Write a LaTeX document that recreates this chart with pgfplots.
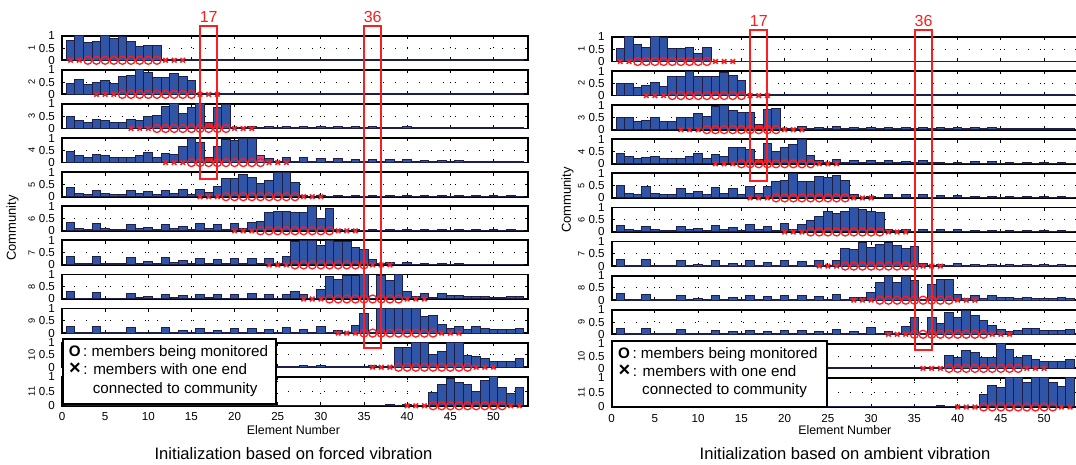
\documentclass[border=0pt]{standalone}
\usepackage{fontspec}
\setmainfont{Liberation Sans}
\usepackage{pgfplots}
\usepackage{pgfplotstable}
\pgfplotsset{compat=1.18}
\definecolor{barblue}{RGB}{48,84,166}
\definecolor{baredge}{RGB}{28,32,72}
\definecolor{mred}{RGB}{250,30,30}
\definecolor{barred}{RGB}{225,30,35}
\definecolor{barpink}{RGB}{215,70,150}

\pgfplotstableread{
x r1 r2 r3 r4 r5 r6 r7 r8 r9 r10 r11
1 0.80 0.46 0.50 0.47 0.37 0.33 0.36 0.32 0.28 0.25 0.02
2 1.00 0.60 0.33 0.30 0.14 0.11 0.06 0.03 0.03 0.03 0.02
3 0.72 0.42 0.23 0.21 0.10 0.07 0.06 0.03 0.03 0.03 0.02
4 0.76 0.49 0.37 0.34 0.27 0.29 0.33 0.26 0.25 0.22 0.02
5 1.00 0.58 0.34 0.30 0.14 0.11 0.07 0.03 0.03 0.03 0.02
6 0.90 0.44 0.24 0.21 0.10 0.07 0.04 0.03 0.03 0.03 0.02
7 0.97 0.75 0.24 0.21 0.10 0.07 0.04 0.03 0.03 0.03 0.02
8 0.75 0.79 0.37 0.21 0.24 0.26 0.30 0.24 0.21 0.20 0.02
9 0.55 1.00 0.34 0.29 0.14 0.11 0.07 0.06 0.04 0.03 0.02
10 0.60 0.89 0.49 0.43 0.20 0.14 0.12 0.09 0.04 0.03 0.02
11 0.62 0.70 0.54 0.21 0.10 0.07 0.04 0.03 0.03 0.03 0.02
12 0.02 0.68 0.90 0.37 0.27 0.26 0.29 0.19 0.21 0.18 0.02
13 0.02 0.87 1.00 0.31 0.14 0.11 0.10 0.06 0.04 0.03 0.02
14 0.02 0.74 0.61 0.64 0.31 0.19 0.16 0.15 0.10 0.08 0.02
15 0.02 0.56 0.84 1.00 0.10 0.07 0.04 0.03 0.03 0.03 0.02
16 0.02 0.03 1.00 0.84 0.31 0.29 0.28 0.20 0.18 0.16 0.02
17 0.02 0.03 0.23 0.21 0.17 0.11 0.07 0.06 0.04 0.03 0.02
18 0.02 0.03 0.84 0.66 0.43 0.24 0.20 0.19 0.10 0.08 0.02
19 0.02 0.03 0.96 0.93 0.74 0.07 0.04 0.03 0.03 0.03 0.02
20 0.02 0.04 0.03 0.89 0.74 0.31 0.25 0.19 0.18 0.15 0.02
21 0.02 0.03 0.03 1.00 0.89 0.11 0.07 0.03 0.04 0.03 0.02
22 0.02 0.03 0.09 1.00 0.77 0.33 0.25 0.24 0.18 0.15 0.02
23 0.02 0.04 0.03 0.30 0.53 0.36 0.04 0.03 0.03 0.03 0.02
24 0.02 0.03 0.08 0.17 0.67 0.76 0.28 0.20 0.15 0.13 0.02
25 0.02 0.03 0.03 0.06 1.00 0.80 0.07 0.03 0.04 0.03 0.02
26 0.02 0.04 0.10 0.21 0.99 0.79 0.35 0.18 0.21 0.04 0.02
27 0.02 0.03 0.03 0.04 0.58 0.75 0.96 0.30 0.03 0.03 0.02
28 0.02 0.03 0.09 0.19 0.04 0.76 1.00 0.19 0.14 0.05 0.02
29 0.02 0.03 0.03 0.04 0.02 1.00 1.00 0.03 0.03 0.03 0.02
30 0.02 0.04 0.09 0.17 0.04 0.50 0.78 0.37 0.28 0.05 0.02
31 0.02 0.03 0.03 0.04 0.02 0.89 1.00 0.91 0.03 0.03 0.02
32 0.02 0.03 0.08 0.17 0.04 0.05 0.94 0.78 0.10 0.04 0.02
33 0.02 0.03 0.03 0.04 0.02 0.03 0.97 0.96 0.03 0.03 0.02
34 0.02 0.04 0.07 0.14 0.04 0.05 0.72 0.96 0.32 0.04 0.02
35 0.02 0.03 0.03 0.04 0.02 0.03 0.61 1.00 0.78 0.03 0.02
36 0.02 0.03 0.07 0.14 0.04 0.05 0.20 0.02 0.02 0.05 0.02
37 0.02 0.03 0.03 0.04 0.02 0.03 0.06 0.96 1.00 0.03 0.02
38 0.02 0.03 0.06 0.11 0.04 0.05 0.08 0.76 1.00 0.04 0.04
39 0.02 0.03 0.03 0.04 0.02 0.03 0.03 1.00 1.00 0.81 0.02
40 0.02 0.03 0.08 0.11 0.04 0.05 0.08 0.30 1.00 0.81 0.03
41 0.02 0.03 0.03 0.03 0.02 0.03 0.03 0.12 1.00 1.00 0.02
42 0.02 0.03 0.06 0.08 0.04 0.05 0.06 0.22 0.68 1.00 0.02
43 0.02 0.03 0.03 0.03 0.02 0.03 0.03 0.07 0.71 0.53 0.46
44 0.02 0.03 0.06 0.08 0.04 0.05 0.06 0.22 0.36 0.63 0.72
45 0.02 0.03 0.03 0.03 0.02 0.03 0.03 0.15 0.20 1.00 0.93
46 0.02 0.03 0.06 0.07 0.04 0.05 0.05 0.15 0.25 1.00 0.81
47 0.02 0.03 0.03 0.03 0.02 0.03 0.03 0.09 0.13 0.49 0.72
48 0.02 0.03 0.06 0.06 0.04 0.05 0.03 0.09 0.25 0.44 0.48
49 0.02 0.03 0.03 0.03 0.02 0.03 0.03 0.09 0.20 0.34 0.87
50 0.02 0.03 0.06 0.05 0.04 0.05 0.03 0.05 0.14 0.22 1.00
51 0.02 0.03 0.03 0.03 0.02 0.03 0.03 0.05 0.14 0.22 0.64
52 0.02 0.03 0.06 0.05 0.04 0.05 0.03 0.09 0.13 0.22 0.42
53 0.02 0.03 0.03 0.03 0.02 0.03 0.03 0.10 0.20 0.34 0.63
}\leftdata

\pgfplotstableread{
x r1 r2 r3 r4 r5 r6 r7 r8 r9 r10 r11
1 0.54 0.51 0.50 0.43 0.52 0.25 0.25 0.28 0.25 0.25 0.02
2 1.00 0.51 0.50 0.31 0.18 0.10 0.03 0.03 0.03 0.03 0.02
3 0.68 0.35 0.35 0.20 0.12 0.07 0.03 0.03 0.03 0.03 0.02
4 0.59 0.43 0.38 0.26 0.45 0.22 0.25 0.23 0.22 0.22 0.02
5 1.00 0.52 0.50 0.31 0.18 0.10 0.03 0.03 0.03 0.03 0.02
6 0.96 0.36 0.35 0.20 0.12 0.07 0.03 0.03 0.03 0.03 0.02
7 0.51 0.78 0.35 0.20 0.12 0.07 0.03 0.03 0.03 0.03 0.02
8 0.54 0.78 0.50 0.20 0.39 0.22 0.22 0.20 0.19 0.19 0.02
9 0.59 1.00 0.50 0.31 0.18 0.10 0.03 0.04 0.04 0.03 0.02
10 0.32 0.78 0.68 0.43 0.25 0.15 0.06 0.05 0.04 0.03 0.02
11 0.59 0.78 0.53 0.20 0.12 0.07 0.03 0.03 0.03 0.03 0.02
12 0.02 0.78 0.95 0.37 0.43 0.27 0.21 0.18 0.16 0.16 0.02
13 0.02 0.93 1.00 0.31 0.18 0.10 0.04 0.04 0.04 0.03 0.02
14 0.02 0.83 0.80 0.65 0.37 0.18 0.10 0.12 0.10 0.08 0.02
15 0.02 0.61 0.70 0.65 0.12 0.07 0.03 0.03 0.03 0.03 0.02
16 0.02 0.03 0.70 0.57 0.48 0.30 0.21 0.18 0.16 0.15 0.02
17 0.02 0.03 0.23 0.17 0.18 0.10 0.04 0.04 0.04 0.03 0.02
18 0.02 0.03 0.83 0.82 0.48 0.22 0.15 0.17 0.12 0.10 0.02
19 0.02 0.03 0.88 0.51 0.67 0.07 0.03 0.03 0.03 0.03 0.02
20 0.02 0.05 0.03 0.66 0.73 0.33 0.21 0.18 0.15 0.14 0.02
21 0.02 0.03 0.03 0.77 1.00 0.10 0.04 0.04 0.04 0.03 0.02
22 0.02 0.03 0.14 1.00 0.67 0.30 0.18 0.20 0.15 0.14 0.02
23 0.02 0.05 0.03 0.35 0.67 0.45 0.03 0.03 0.03 0.03 0.02
24 0.02 0.03 0.10 0.14 0.88 0.64 0.22 0.17 0.13 0.12 0.02
25 0.02 0.03 0.03 0.05 0.82 0.85 0.04 0.04 0.04 0.03 0.02
26 0.02 0.06 0.14 0.17 0.91 0.75 0.21 0.25 0.21 0.04 0.02
27 0.02 0.03 0.03 0.04 0.73 0.82 0.73 0.04 0.03 0.03 0.02
28 0.02 0.03 0.10 0.13 0.15 1.00 0.67 0.12 0.13 0.04 0.02
29 0.02 0.03 0.03 0.04 0.03 0.93 0.96 0.12 0.03 0.03 0.02
30 0.02 0.04 0.10 0.13 0.07 0.82 0.75 0.31 0.28 0.05 0.02
31 0.02 0.03 0.03 0.04 0.03 0.79 0.90 0.71 0.03 0.03 0.02
32 0.02 0.03 0.10 0.14 0.13 0.12 0.96 0.97 0.13 0.04 0.02
33 0.02 0.03 0.03 0.04 0.03 0.07 0.85 0.71 0.03 0.03 0.02
34 0.02 0.04 0.08 0.11 0.12 0.12 0.70 0.97 0.33 0.04 0.02
35 0.02 0.03 0.03 0.04 0.03 0.04 0.80 0.82 0.70 0.03 0.02
36 0.02 0.03 0.09 0.13 0.12 0.12 0.10 0.02 0.02 0.05 0.02
37 0.02 0.03 0.03 0.04 0.03 0.04 0.04 0.63 0.67 0.03 0.02
38 0.02 0.04 0.08 0.06 0.09 0.10 0.07 0.85 0.45 0.04 0.04
39 0.02 0.03 0.03 0.03 0.03 0.04 0.03 0.85 0.88 0.54 0.02
40 0.02 0.03 0.10 0.07 0.09 0.10 0.10 0.23 0.67 0.43 0.03
41 0.02 0.03 0.03 0.03 0.03 0.03 0.03 0.08 0.97 0.74 0.02
42 0.02 0.04 0.08 0.08 0.07 0.08 0.05 0.20 0.75 0.66 0.02
43 0.02 0.03 0.03 0.03 0.03 0.03 0.03 0.08 0.55 0.43 0.42
44 0.02 0.03 0.08 0.08 0.06 0.06 0.05 0.18 0.37 0.46 0.74
45 0.02 0.03 0.03 0.03 0.03 0.03 0.03 0.12 0.18 1.00 0.68
46 0.02 0.05 0.06 0.05 0.06 0.06 0.05 0.12 0.13 0.78 1.00
47 0.02 0.05 0.03 0.03 0.03 0.03 0.03 0.08 0.15 0.43 1.00
48 0.02 0.03 0.05 0.05 0.06 0.06 0.05 0.12 0.25 0.51 0.83
49 0.02 0.03 0.03 0.03 0.03 0.03 0.03 0.08 0.22 0.35 1.00
50 0.02 0.03 0.05 0.05 0.06 0.06 0.05 0.08 0.15 0.28 1.00
51 0.02 0.03 0.03 0.03 0.03 0.03 0.03 0.08 0.15 0.28 0.86
52 0.02 0.03 0.06 0.05 0.06 0.06 0.05 0.12 0.15 0.28 0.69
53 0.02 0.03 0.03 0.03 0.03 0.03 0.03 0.08 0.21 0.38 1.00
}\rightdata

\pgfplotsset{
  commrow/.style={
    scale only axis, width=233pt, height=12.25pt,
    xmin=0, xmax=54, ymin=0, ymax=1,
    xtick={0,5,...,50}, ytick={0,0.5,1}, yticklabels={0,0.5,1},
    xticklabels={},
    tick align=inside, major tick length=1.7pt,
    tick style={black, line width=0.5pt},
    axis line style={black, line width=0.9pt},
    grid=major, grid style={black, line width=0.45pt, dash pattern=on 0.45pt off 5.5pt},
    clip=false,
    /pgf/number format/assume math mode=true,
    tick label style={font=\fontsize{5.8}{6}\selectfont},
    ylabel style={font=\fontsize{4.6}{5}\selectfont, at={(axis description cs:-0.065,0.5)}, anchor=center},
  },
  bluebar/.style={ybar, bar width=1, bar shift=0pt, fill=barblue, draw=baredge, line width=0.5pt},
  redbar/.style={ybar, bar width=1, bar shift=0pt, fill=barred, draw=baredge, line width=0.5pt},
  pinkbar/.style={ybar, bar width=1, bar shift=0pt, fill=barpink, draw=baredge, line width=0.5pt},
  circ/.style={mred, only marks, mark=o, mark size=2pt, line width=0.65pt},
  crs/.style={mred, only marks, mark=x, mark size=1.6pt, line width=0.8pt},
}

\newcommand{\crow}[9]{%
\begin{axis}[commrow, at={(#1,#2)}, ylabel={#3}, #8]
\addplot[bluebar] table[x=x,y=#5]{#4};
#9
\addplot[circ] coordinates {#6};
\addplot[crs] coordinates {#7};
\end{axis}}

\begin{document}
\begin{tikzpicture}
\useasboundingbox (0,0) rectangle (538pt,232.5pt);
\clip (0,0) rectangle (538pt,232.5pt);

% ---------------- left panel ----------------
\crow{31pt}{202.35pt}{1}{\leftdata}{r1}{(3,0)(4,0)(5,0)(6,0)(7,0)(8,0)(9,0)(10,0)(11,0)}{(1,0)(2,0)(12,0)(13,0)(14,0)}{}{}
\crow{31pt}{185.3pt}{2}{\leftdata}{r2}{(7,0)(8,0)(9,0)(10,0)(11,0)(12,0)(13,0)(14,0)(15,0)}{(4,0)(5,0)(6,0)(16,0)(17,0)(18,0)}{}{}
\crow{31pt}{168.25pt}{3}{\leftdata}{r3}{(11,0)(12,0)(13,0)(14,0)(15,0)(16,0)(17,0)(18,0)(19,0)}{(8,0)(9,0)(10,0)(20,0)(21,0)(22,0)}{}{\addplot[redbar] coordinates {(17,0.23)};}
\crow{31pt}{151.2pt}{4}{\leftdata}{r4}{(15,0)(16,0)(17,0)(18,0)(19,0)(20,0)(21,0)(22,0)(23,0)}{(12,0)(13,0)(14,0)(24,0)(25,0)(26,0)}{}{\addplot[redbar] coordinates {(17,0.21)}; \addplot[pinkbar] coordinates {(23,0.30)};}
\crow{31pt}{134.15pt}{5}{\leftdata}{r5}{(19,0)(20,0)(21,0)(22,0)(23,0)(24,0)(25,0)(26,0)(27,0)}{(16,0)(17,0)(18,0)(28,0)(29,0)(30,0)}{}{}
\crow{31pt}{117.1pt}{6}{\leftdata}{r6}{(23,0)(24,0)(25,0)(26,0)(27,0)(28,0)(29,0)(30,0)(31,0)}{(20,0)(21,0)(22,0)(32,0)(33,0)(34,0)}{}{}
\crow{31pt}{100.05pt}{7}{\leftdata}{r7}{(27,0)(28,0)(29,0)(30,0)(31,0)(32,0)(33,0)(34,0)(35,0)}{(24,0)(25,0)(26,0)(36,0)(37,0)(38,0)}{}{}
\crow{31pt}{83.0pt}{8}{\leftdata}{r8}{(31,0)(32,0)(33,0)(34,0)(35,0)(36,0)(37,0)(38,0)(39,0)}{(28,0)(29,0)(30,0)(40,0)(41,0)(42,0)}{}{}
\crow{31pt}{65.95pt}{9}{\leftdata}{r9}{(35,0)(36,0)(37,0)(38,0)(39,0)(40,0)(41,0)(42,0)(43,0)}{(32,0)(33,0)(34,0)(44,0)(45,0)(46,0)}{}{}
\crow{31pt}{48.9pt}{10}{\leftdata}{r10}{(39,0)(40,0)(41,0)(42,0)(43,0)(44,0)(45,0)(46,0)(47,0)}{(36,0)(37,0)(38,0)(48,0)(49,0)(50,0)}{}{}
\crow{31pt}{29.6pt}{11}{\leftdata}{r11}{(43,0)(44,0)(45,0)(46,0)(47,0)(48,0)(49,0)(50,0)(51,0)}{(40,0)(41,0)(42,0)(52,0)(53,0)}{height=14.5pt, xticklabels={0,5,10,15,20,25,30,35,40,45,50}}{}

% ---------------- right panel ----------------
\crow{305.85pt}{201.75pt}{1}{\rightdata}{r1}{(3,0)(4,0)(5,0)(6,0)(7,0)(8,0)(9,0)(10,0)(11,0)}{(1,0)(2,0)(12,0)(13,0)(14,0)}{width=233.5pt}{}
\crow{305.85pt}{184.7pt}{2}{\rightdata}{r2}{(7,0)(8,0)(9,0)(10,0)(11,0)(12,0)(13,0)(14,0)(15,0)}{(4,0)(5,0)(6,0)(16,0)(17,0)(18,0)}{width=233.5pt}{}
\crow{305.85pt}{167.65pt}{3}{\rightdata}{r3}{(11,0)(12,0)(13,0)(14,0)(15,0)(16,0)(17,0)(18,0)(19,0)}{(8,0)(9,0)(10,0)(20,0)(21,0)(22,0)}{width=233.5pt}{\addplot[redbar] coordinates {(17,0.23)};}
\crow{305.85pt}{150.6pt}{4}{\rightdata}{r4}{(15,0)(16,0)(17,0)(18,0)(19,0)(20,0)(21,0)(22,0)(23,0)}{(12,0)(13,0)(14,0)(24,0)(25,0)(26,0)}{width=233.5pt}{\addplot[redbar] coordinates {(17,0.17)};}
\crow{305.85pt}{133.55pt}{5}{\rightdata}{r5}{(19,0)(20,0)(21,0)(22,0)(23,0)(24,0)(25,0)(26,0)(27,0)}{(16,0)(17,0)(18,0)(28,0)(29,0)(30,0)}{width=233.5pt}{}
\crow{305.85pt}{116.5pt}{6}{\rightdata}{r6}{(23,0)(24,0)(25,0)(26,0)(27,0)(28,0)(29,0)(30,0)(31,0)}{(20,0)(21,0)(22,0)(32,0)(33,0)(34,0)}{width=233.5pt}{}
\crow{305.85pt}{99.45pt}{7}{\rightdata}{r7}{(27,0)(28,0)(29,0)(30,0)(31,0)(32,0)(33,0)(34,0)(35,0)}{(24,0)(25,0)(26,0)(36,0)(37,0)(38,0)}{width=233.5pt}{}
\crow{305.85pt}{82.4pt}{8}{\rightdata}{r8}{(31,0)(32,0)(33,0)(34,0)(35,0)(36,0)(37,0)(38,0)(39,0)}{(28,0)(29,0)(30,0)(40,0)(41,0)(42,0)}{width=233.5pt}{}
\crow{305.85pt}{65.35pt}{9}{\rightdata}{r9}{(35,0)(36,0)(37,0)(38,0)(39,0)(40,0)(41,0)(42,0)(43,0)}{(32,0)(33,0)(34,0)(44,0)(45,0)(46,0)}{width=233.5pt}{}
\crow{305.85pt}{48.3pt}{10}{\rightdata}{r10}{(39,0)(40,0)(41,0)(42,0)(43,0)(44,0)(45,0)(46,0)(47,0)}{(36,0)(37,0)(38,0)(48,0)(49,0)(50,0)}{width=233.5pt}{}
\crow{305.85pt}{29.0pt}{11}{\rightdata}{r11}{(43,0)(44,0)(45,0)(46,0)(47,0)(48,0)(49,0)(50,0)(51,0)}{(40,0)(41,0)(42,0)(52,0)(53,0)}{width=233.5pt, height=14.5pt, xticklabels={0,5,10,15,20,25,30,35,40,45,50}}{}

% ---------------- annotations ----------------
\draw[mred, line width=0.85pt] (100.05pt,143pt) rectangle (108.65pt,219.5pt);
\draw[mred, line width=0.85pt] (182pt,58.5pt) rectangle (190.65pt,219.5pt);
\node[mred, font=\fontsize{8}{8}\selectfont] at (104.35pt,224pt) {17};
\node[mred, font=\fontsize{8}{8}\selectfont] at (186.35pt,224pt) {36};
\draw[mred, line width=0.85pt] (375.1pt,142pt) rectangle (383.65pt,217.5pt);
\draw[mred, line width=0.85pt] (457.5pt,57.5pt) rectangle (466pt,217.5pt);
\node[mred, font=\fontsize{8}{8}\selectfont] at (379.4pt,222.1pt) {17};
\node[mred, font=\fontsize{8}{8}\selectfont] at (461.8pt,222.1pt) {36};

% ---------------- legends ----------------
\draw[black, line width=0.9pt, fill=white] (31.35pt,30.5pt) rectangle (138pt,62.85pt);
\node[anchor=base west, inner sep=0pt, font=\fontsize{7.6}{8}\selectfont] at (34.2pt,54.2pt) {\textbf{O}\,: members being monitored};
\node[anchor=base west, inner sep=0pt, font=\fontsize{7.6}{8}\selectfont] at (34.4pt,45pt) {{\fontsize{10}{10}\selectfont\textbf{×}}\,: members with one end};
\node[anchor=base west, inner sep=0pt, font=\fontsize{7.6}{8}\selectfont] at (46.2pt,35.8pt) {connected to community};

\draw[black, line width=0.9pt, fill=white] (305.85pt,29.15pt) rectangle (413.35pt,62pt);
\node[anchor=base west, inner sep=0pt, font=\fontsize{7.6}{8}\selectfont] at (308.9pt,53.4pt) {\textbf{O}\,: members being monitored};
\node[anchor=base west, inner sep=0pt, font=\fontsize{7.6}{8}\selectfont] at (309.1pt,44.2pt) {{\fontsize{10}{10}\selectfont\textbf{×}}\,: members with one end};
\node[anchor=base west, inner sep=0pt, font=\fontsize{7.6}{8}\selectfont] at (320.9pt,35pt) {connected to community};

% ---------------- labels ----------------
\node[rotate=90, font=\fontsize{6.5}{7}\selectfont] at (6.25pt,118.5pt) {Community};
\node[rotate=90, font=\fontsize{6.5}{7}\selectfont] at (283.75pt,132.5pt) {Community};
\node[anchor=base, font=\fontsize{6.2}{7}\selectfont] at (146.7pt,15pt) {Element Number};
\node[anchor=base, font=\fontsize{6.2}{7}\selectfont] at (422.4pt,15pt) {Element Number};
\node[anchor=base, font=\fontsize{8.3}{9}\selectfont] at (146.75pt,2.85pt) {Initialization based on forced vibration};
\node[anchor=base, font=\fontsize{8.3}{9}\selectfont] at (422.5pt,2.85pt) {Initialization based on ambient vibration};
\end{tikzpicture}
\end{document}
